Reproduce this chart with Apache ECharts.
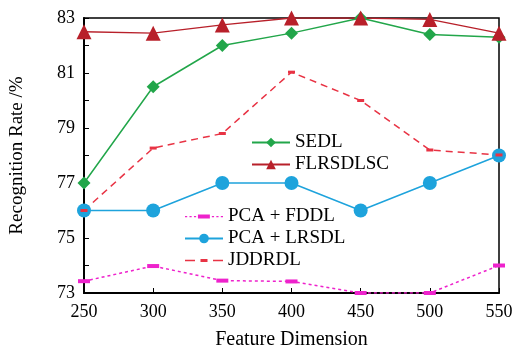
<!DOCTYPE html>
<html>
<head>
<meta charset="utf-8">
<script src="https://cdn.jsdelivr.net/npm/echarts@6/dist/echarts.min.js"></script>
<style>
  html, body { margin: 0; padding: 0; background: #fff; }
  #lineChart { width: 526px; height: 348px; }
</style>
</head>
<body>
<div id="lineChart"></div>
<script>
// feature dimensions on the x axis
const dims = [250, 300, 350, 400, 450, 500, 550]
const sedl = [77, 80.5, 82, 82.45, 83, 82.4, 82.3]
const flrsdlsc = [82.5, 82.45, 82.75, 83, 83, 82.95, 82.45]
const pcaFddl = [73.43, 73.98, 73.45, 73.42, 73, 73, 74]
const pcaLrsdl = [76, 76, 77, 77, 76, 77, 78]
const jddrdl = [76, 78.27, 78.8, 81.03, 80, 78.2, 78.02]

const font = 'Liberation Serif'

function pairs (ys) {
  return dims.map((d, i) => [d, ys[i]])
}

// legend icons for the dash-marker series: line pieces + a flat marker
function dottedIcon () {
  let p = ''
  for (let x = 0; x < 38; x += 4.5) {
    if (x > 11 && x < 25) continue
    p += 'M' + x + ',1.4h2.2v1.3h-2.2Z'
  }
  p += 'M13,0h12v4h-12Z'
  return 'path://' + p
}
function dashedIcon () {
  return 'path://M0,0.8h10v1.4h-10ZM15.5,0h7v3h-7ZM28,0.8h10v1.4h-10Z'
}

const legendText = { fontFamily: font, fontSize: 19, color: '#000' }

let myChart = echarts.init(document.getElementById('lineChart'))
myChart.setOption({
  animation: false,
  textStyle: { fontFamily: font },
  grid: {
    show: true,
    left: 84,
    right: 27,
    top: 18,
    bottom: 55,
    outerBoundsMode: 'none',
    containLabel: false,
    borderColor: '#000',
    borderWidth: 1.5
  },
  legend: [
    {
      data: ['SEDL', 'FLRSDLSC'],
      orient: 'vertical',
      left: 246,
      top: 128,
      itemWidth: 38,
      itemHeight: 12,
      itemGap: 3,
      textStyle: legendText
    },
    {
      data: [
        { name: 'PCA + FDDL', icon: dottedIcon() },
        'PCA + LRSDL',
        { name: 'JDDRDL', icon: dashedIcon() }
      ],
      orient: 'vertical',
      left: 179,
      top: 202,
      itemWidth: 38,
      itemHeight: 12,
      itemGap: 3,
      textStyle: legendText
    }
  ],
  xAxis: {
    type: 'value',
    min: 250,
    max: 550,
    interval: 50,
    name: 'Feature Dimension',
    nameLocation: 'middle',
    nameGap: 37,
    nameTextStyle: { fontFamily: font, fontSize: 20, color: '#000' },
    splitLine: { show: false },
    axisLine: { lineStyle: { color: '#000', width: 2 } },
    axisTick: { inside: true, length: 5, lineStyle: { color: '#000' } },
    axisLabel: { fontFamily: font, fontSize: 18, color: '#000', margin: 10 }
  },
  yAxis: {
    type: 'value',
    min: 73,
    max: 83,
    interval: 2,
    name: 'Recognition Rate /%',
    nameLocation: 'middle',
    nameGap: 57,
    nameTextStyle: { fontFamily: font, fontSize: 19, color: '#000' },
    splitLine: { show: false },
    axisLine: { show: true, lineStyle: { color: '#000', width: 2 } },
    axisTick: { inside: true, length: 5, lineStyle: { color: '#000' } },
    minorTick: { show: true, splitNumber: 2, length: 5, lineStyle: { color: '#000' } },
    axisLabel: { fontFamily: font, fontSize: 18, color: '#000', margin: 9 }
  },
  series: [
    {
      name: 'SEDL',
      type: 'line',
      symbol: 'diamond',
      symbolSize: 13,
      color: '#22a64a',
      lineStyle: { width: 1.5 },
      data: pairs(sedl)
    },
    {
      name: 'FLRSDLSC',
      type: 'line',
      symbol: 'triangle',
      symbolSize: 15,
      color: '#b8202a',
      lineStyle: { width: 1.5 },
      data: pairs(flrsdlsc)
    },
    {
      name: 'PCA + FDDL',
      type: 'line',
      symbol: 'rect',
      symbolSize: [12, 4],
      color: '#ee22cc',
      lineStyle: { width: 1.5, type: [3, 3] },
      data: pairs(pcaFddl)
    },
    {
      name: 'PCA + LRSDL',
      type: 'line',
      symbol: 'circle',
      symbolSize: 14,
      color: '#1ea3dc',
      lineStyle: { width: 1.5 },
      data: pairs(pcaLrsdl)
    },
    {
      name: 'JDDRDL',
      type: 'line',
      symbol: 'rect',
      symbolSize: [7, 3],
      color: '#e83344',
      lineStyle: { width: 1.5, type: [7, 5] },
      data: pairs(jddrdl)
    }
  ]
})
</script>
</body>
</html>
